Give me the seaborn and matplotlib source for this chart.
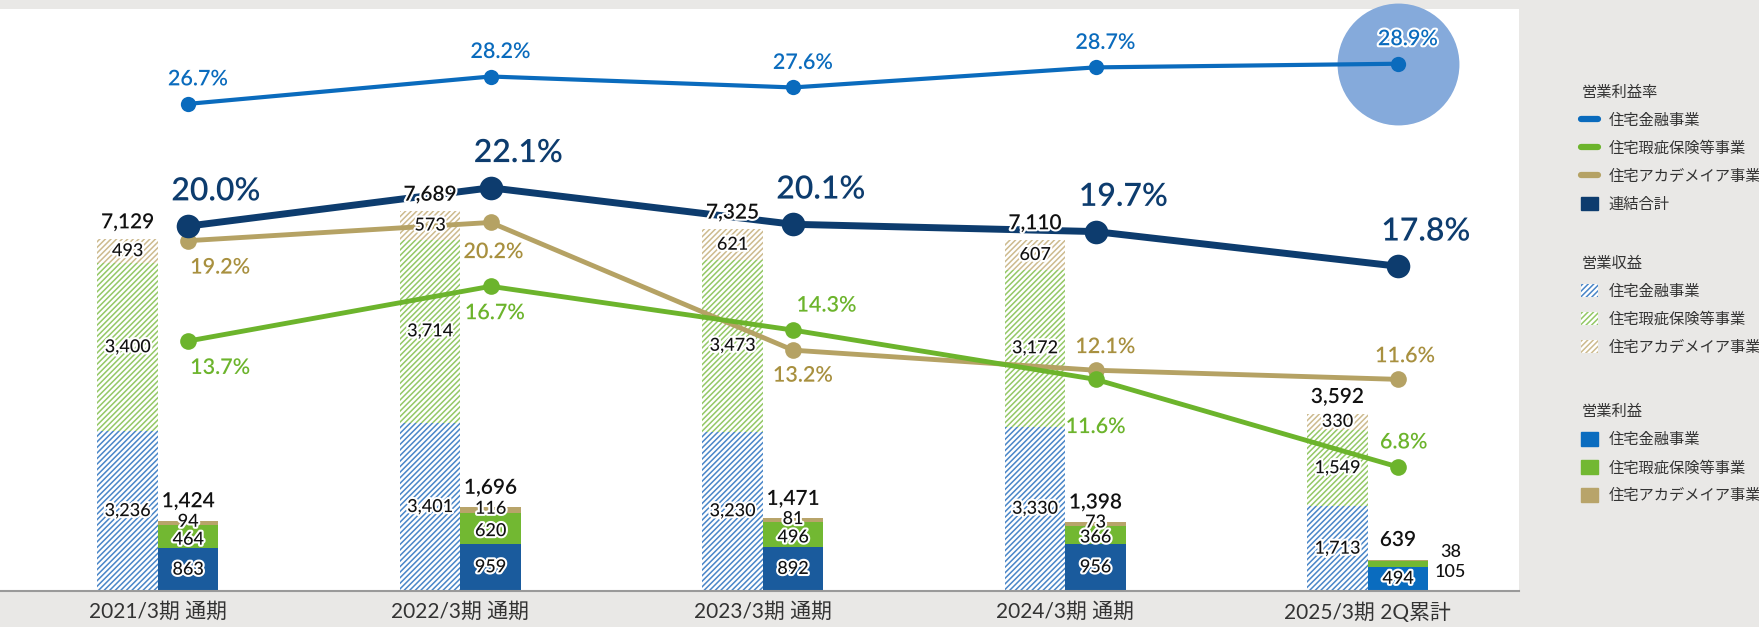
import matplotlib
matplotlib.use('Agg')
import matplotlib.pyplot as plt
import matplotlib.patheffects as pe
from matplotlib.lines import Line2D
from matplotlib.patches import Patch
import seaborn as sns
import numpy as np

# ---- data ----
periods = ['2021/3期 通期', '2022/3期 通期', '2023/3期 通期', '2024/3期 通期', '2025/3期 2Q累計']

rev_finance = [3236, 3401, 3230, 3330, 1713]
rev_warranty = [3400, 3714, 3473, 3172, 1549]
rev_academia = [493, 573, 621, 607, 330]
rev_total = [7129, 7689, 7325, 7110, 3592]

op_finance = [863, 959, 892, 956, 494]
op_warranty = [464, 620, 496, 366, 105]
op_academia = [94, 116, 81, 73, 38]
op_total = [1424, 1696, 1471, 1398, 639]

rate_finance = [26.7, 28.2, 27.6, 28.7, 28.9]
rate_warranty = [13.7, 16.7, 14.3, 11.6, 6.8]
rate_academia = [19.2, 20.2, 13.2, 12.1, 11.6]
rate_total = [20.0, 22.1, 20.1, 19.7, 17.8]

seg_names = ['住宅金融事業', '住宅瑕疵保険等事業', '住宅アカデメイア事業']

# ---- styling ----
BG = '#e9e8e6'
NAVY = '#0d3c6e'
BLUE = '#0a6bbd'
GREEN = '#6cb42c'
GOLD = '#b5a264'
GOLD_TXT = '#a8903f'
OP_BLUE = ['#1a5b9d'] * 4 + ['#0a6cbf']
OP_GREEN = '#72b832'
OP_GOLD = '#b8a46a'
HATCH_C = ['#4a86c8', '#94c866', '#cdbb8f']

sns.set_theme(style='white')
plt.rcParams['font.family'] = ['Lato', 'Noto Sans CJK JP', 'DejaVu Sans']
plt.rcParams['hatch.linewidth'] = 1.1

stroke = [pe.withStroke(linewidth=3, foreground='white')]

fig = plt.figure(figsize=(17.59, 6.27), dpi=100, facecolor=BG)
ax = fig.add_axes([0.0, 36 / 627, 1519 / 1759, 582 / 627])
ax.set_facecolor('white')
ax2 = ax.twinx()

x = np.arange(len(periods))
w = 0.2
xr = x - w / 2
xp = x + w / 2

# revenue bars (hatched)
bottom = np.zeros(len(x))
for vals, hc in zip([rev_finance, rev_warranty, rev_academia], HATCH_C):
    ax.bar(xr, vals, w, bottom=bottom, facecolor='white', edgecolor=hc,
           hatch='//////', linewidth=0, zorder=2)
    for xi, b, v in zip(xr, bottom, vals):
        ax2.text(xi, b + v / 2, f'{v:,}', transform=ax.transData, ha='center', va='center',
                 fontsize=13, fontweight='medium', color='#111', path_effects=stroke, zorder=6)
    bottom += np.array(vals)
for xi, t in zip(xr, rev_total):
    ax2.annotate(f'{t:,}', (xi, t), xycoords=ax.transData, xytext=(0, 12), textcoords='offset points',
                 ha='center', va='center', fontsize=15, fontweight='semibold', color='#111',
                 path_effects=stroke, zorder=7)

# operating profit bars (solid)
bottom = np.zeros(len(x))
for k, (vals, col) in enumerate(zip([op_finance, op_warranty, op_academia], [OP_BLUE, OP_GREEN, OP_GOLD])):
    ax.bar(xp, vals, w, bottom=bottom, color=col, linewidth=0, zorder=2)
    for i, (xi, b, v) in enumerate(zip(xp, bottom, vals)):
        if i == 4 and k > 0:
            dy = -6 if k == 1 else 6
            ax2.annotate(f'{v:,}', (xi + w / 2, b + v / 2), xycoords=ax.transData, xytext=(16, dy),
                         textcoords='offset points', ha='center', va='center', fontsize=13,
                         fontweight='medium', color='#111', zorder=6)
            continue
        dy = {0: 0, 1: -2, 2: 1}[k]
        ax2.annotate(f'{v:,}', (xi, b + v / 2), xycoords=ax.transData, xytext=(0, dy),
                     textcoords='offset points', ha='center', va='center', fontsize=13,
                     fontweight='medium', color='#111', path_effects=stroke, zorder=6)
    bottom += np.array(vals)
for xi, t in zip(xp, op_total):
    ax2.annotate(f'{t:,}', (xi, t), xycoords=ax.transData, xytext=(0, 14), textcoords='offset points',
                 ha='center', va='center', fontsize=15, fontweight='semibold', color='#111',
                 path_effects=stroke, zorder=7)

ax.set_xlim(-0.522, 4.5)
ax.set_ylim(0, 11788)

# highlight circle behind the latest finance margin
ax2.scatter([xp[-1]], [rate_finance[-1]], s=7700, color='#85aadb', linewidths=0, zorder=1, clip_on=False)

# margin lines
sns.lineplot(x=xp, y=rate_academia, ax=ax2, color=GOLD, lw=3.5, marker='o', markersize=12,
             markeredgewidth=0, zorder=3)
sns.lineplot(x=xp, y=rate_warranty, ax=ax2, color=GREEN, lw=3.5, marker='o', markersize=12,
             markeredgewidth=0, zorder=3)
sns.lineplot(x=xp, y=rate_finance, ax=ax2, color=BLUE, lw=3, marker='o', markersize=11,
             markeredgewidth=0, zorder=3)
sns.lineplot(x=xp, y=rate_total, ax=ax2, color=NAVY, lw=5, marker='o', markersize=17,
             markeredgewidth=0, zorder=4)

gold_off = [(23, -19), (2, -21), (7, -18), (7, 17), (5, 17)]
green_off = [(23, -19), (3, -19), (24, 18), (0, -34), (4, 18)]
for xi, r in zip(xp, rate_finance):
    ax2.annotate(f'{r}%', (xi, r), xytext=(7, 18), textcoords='offset points', ha='center',
                 va='center', fontsize=15.5, fontweight='semibold', color=BLUE,
                 path_effects=stroke, zorder=8)
for xi, r in zip(xp, rate_total):
    ax2.annotate(f'{r}%', (xi, r), xytext=(20, 25), textcoords='offset points', ha='center',
                 va='center', fontsize=23, fontweight='semibold', color=NAVY,
                 path_effects=stroke, zorder=8)
for xi, r, o in zip(xp, rate_academia, gold_off):
    ax2.annotate(f'{r}%', (xi, r), xytext=o, textcoords='offset points', ha='center',
                 va='center', fontsize=15.5, fontweight='semibold', color=GOLD_TXT,
                 path_effects=stroke, zorder=8)
for xi, r, o in zip(xp, rate_warranty, green_off):
    ax2.annotate(f'{r}%', (xi, r), xytext=o, textcoords='offset points', ha='center',
                 va='center', fontsize=15.5, fontweight='semibold', color=GREEN,
                 path_effects=stroke, zorder=8)

ax2.set_ylim(0, 31.9)
ax2.set_xlim(-0.522, 4.5)

# axes cosmetics
ax.set_xticks(x)
ax.set_xticklabels(periods, fontsize=15, color='#333')
ax.tick_params(axis='x', length=0, pad=8)
ax.set_yticks([])
ax2.set_yticks([])
for s in ['top', 'left', 'right']:
    ax.spines[s].set_visible(False)
ax.spines['bottom'].set_color('#9a9a9a')
ax.spines['bottom'].set_linewidth(1.5)
for s in ax2.spines.values():
    s.set_visible(False)

# legends
leg_kw = dict(loc='upper left', frameon=False, fontsize=11, title_fontsize=11,
              alignment='left', labelspacing=0.85, handlelength=1.1, handleheight=1.0,
              handletextpad=0.7, borderaxespad=0, borderpad=0)
h1 = [Line2D([0], [0], color=c, lw=4.5) for c in [BLUE, GREEN, GOLD]] + [Patch(color=NAVY)]
l1 = fig.legend(h1, seg_names + ['連結合計'], title='営業利益率', bbox_to_anchor=(0.899, 0.864), **leg_kw)
h2 = [Patch(facecolor='white', edgecolor=c, hatch='//////', linewidth=0) for c in HATCH_C]
l2 = fig.legend(h2, seg_names, title='営業収益', bbox_to_anchor=(0.899, 0.591), **leg_kw)
h3 = [Patch(color=c) for c in ['#0a6cbf', OP_GREEN, OP_GOLD]]
l3 = fig.legend(h3, seg_names, title='営業利益', bbox_to_anchor=(0.899, 0.354), **leg_kw)
for lg in (l1, l2, l3):
    lg.get_title().set_color('#333')
    for t in lg.get_texts():
        t.set_color('#333')

fig.savefig('out.png', dpi=100, facecolor=BG)
